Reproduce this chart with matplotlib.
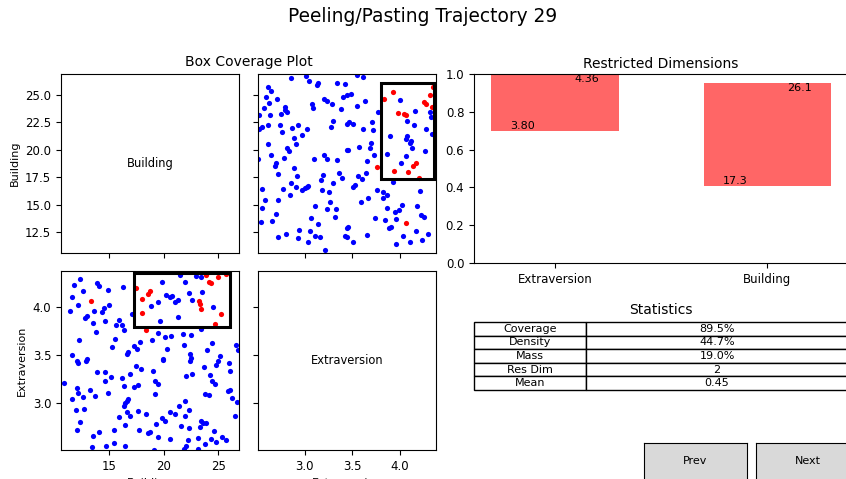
import matplotlib
matplotlib.use("Agg")
import matplotlib.pyplot as plt
from matplotlib.patches import Rectangle
from matplotlib.widgets import Button

# points outside the target class (blue)
blue_building = [
    12.30, 11.78, 12.60, 13.90, 14.06, 14.90, 16.24, 11.57, 12.18, 11.42,
    13.00, 12.84, 13.66, 14.36, 14.54, 14.97, 14.66, 13.57, 13.81, 15.87,
    15.63, 16.18, 17.09, 16.33, 15.57, 15.27, 12.24, 17.33, 17.60, 17.84,
    16.78, 16.63, 11.63, 13.00, 12.09,
    19.87, 21.48, 21.93, 22.99, 23.45, 18.84, 19.45, 20.18, 20.78, 21.02,
    21.27, 22.30, 23.50, 19.66, 21.27, 23.45, 19.50, 20.12, 20.66, 21.78,
    22.54, 18.96, 20.27, 21.87, 24.42, 24.00, 22.39, 22.54, 19.96, 25.12,
    26.63, 26.78, 24.55, 22.58, 20.60,
    12.18, 12.90, 10.87, 13.90, 14.60, 14.60, 15.21, 12.09, 12.18, 13.21,
    12.60, 11.57, 13.75, 14.90, 12.00, 12.69, 12.30, 12.09, 13.51, 14.12,
    13.45, 14.72, 15.42, 16.42, 15.42, 15.87, 16.42, 16.94, 16.33, 16.48,
    16.63, 16.72, 16.63, 16.18, 16.33, 16.94, 17.45, 17.93, 17.24, 17.69,
    17.63, 18.36, 17.75, 18.54,
    19.96, 22.39, 19.05, 19.20, 19.51, 19.20, 22.08, 22.60, 23.69, 24.81,
    25.02, 26.02, 26.12, 24.21, 24.42, 24.66, 23.81, 24.15, 25.87, 26.12,
    26.24, 26.72, 21.39, 21.93, 22.30, 20.57, 21.08, 21.99, 19.87, 20.12,
    19.27, 21.63, 22.30, 23.45, 23.60, 23.90, 23.30, 24.60, 26.54, 18.75,
    19.51, 20.57, 22.24, 23.15, 24.30, 24.81, 25.33, 25.72, 19.12, 21.87,
    22.08, 23.15, 23.81,
]
blue_extraversion = [
    4.30, 4.23, 4.17, 4.25, 4.22, 4.18, 4.21, 4.11, 4.03, 3.965,
    3.905, 3.89, 3.96, 3.95, 3.99, 4.02, 3.86, 3.84, 3.74, 3.87,
    3.82, 3.82, 3.93, 3.76, 3.67, 3.59, 3.66, 3.60, 3.565, 3.64,
    3.53, 3.51, 3.505, 3.46, 3.44,
    4.26, 4.34, 4.27, 4.33, 4.32, 4.01, 4.06, 4.13, 4.12, 4.06,
    4.08, 4.15, 4.16, 3.86, 3.90, 3.775, 3.73, 3.69, 3.70, 3.72,
    3.71, 3.66, 3.57, 3.61, 3.63, 3.55, 3.51, 3.47, 3.46, 3.49,
    3.61, 3.55, 4.00, 4.08, 4.105,
    3.42, 3.44, 3.21, 3.32, 3.33, 3.23, 3.27, 3.16, 3.11, 3.14,
    3.06, 3.04, 3.07, 3.11, 2.93, 2.94, 2.80, 2.72, 2.66, 2.70,
    2.54, 2.55, 2.58, 2.55, 2.72, 2.85, 2.77, 2.86, 2.97, 3.00,
    3.02, 3.04, 2.91, 3.26, 3.18, 3.30, 3.39, 3.36, 3.17, 3.19,
    2.92, 2.89, 2.72, 2.69,
    3.45, 3.44, 3.34, 3.23, 3.20, 3.10, 3.28, 3.30, 3.38, 3.40,
    3.44, 3.42, 3.34, 3.29, 3.23, 3.20, 3.09, 3.08, 3.13, 3.14,
    3.05, 3.01, 2.97, 3.02, 2.93, 2.91, 2.89, 2.87, 2.84, 2.81,
    2.78, 2.76, 2.74, 2.81, 2.79, 2.79, 2.75, 2.71, 2.86, 2.70,
    2.65, 2.62, 2.61, 2.64, 2.63, 2.59, 2.65, 2.61, 2.51, 2.52,
    2.55, 2.52, 2.57,
]

# points of the target class (red)
red_building = [13.36, 17.45, 17.99, 18.54, 18.75, 18.06, 18.39, 23.90, 24.15,
                24.36, 25.02, 25.72, 23.20, 23.30, 23.39, 25.27, 24.66]
red_extraversion = [4.07, 4.20, 4.09, 4.14, 4.17, 3.94, 3.76, 4.34, 4.27,
                    4.25, 4.32, 4.35, 4.07, 4.04, 3.98, 3.93, 3.83]

building_lim = (10.6, 26.9)
extraversion_lim = (2.51, 4.38)
box_building = (17.3, 26.1)
box_extraversion = (3.80, 4.36)

# restricted dimensions, normalised to [0, 1]
dims = ["Extraversion", "Building"]
dim_low = [0.70, 0.41]
dim_high = [1.00, 0.95]
low_labels = ["3.80", "17.3"]
high_labels = ["4.36", "26.1"]

stat_names = ["Coverage", "Density", "Mass", "Res Dim", "Mean"]
stat_values = ["89.5%", "44.7%", "19.0%", "2", "0.45"]

W, H = 846, 479


def place(left, top, right, bottom):
    """pixel box -> figure fraction rect"""
    return [left / W, 1 - bottom / H, (right - left) / W, (bottom - top) / H]


plt.rcParams["xtick.labelsize"] = 8.5
plt.rcParams["ytick.labelsize"] = 8.5

fig = plt.figure(figsize=(W / 100, H / 100), dpi=100)
fig.suptitle("Peeling/Pasting Trajectory 29", fontsize=13.4, y=1 - 16 / H, va="center")

ax_tl = fig.add_axes(place(61, 74, 239, 253))
ax_tr = fig.add_axes(place(258, 74, 436, 253), sharey=ax_tl)
ax_bl = fig.add_axes(place(61, 271, 239, 450), sharex=ax_tl)
ax_br = fig.add_axes(place(258, 271, 436, 450), sharex=ax_tr, sharey=ax_bl)

ax_tl.set_xlim(*building_lim)
ax_tl.set_ylim(*building_lim)
ax_tr.set_xlim(*extraversion_lim)
ax_bl.set_ylim(*extraversion_lim)

fig.text((61 + 436) / 2 / W, 1 - 62 / H, "Box Coverage Plot", ha="center", va="center", fontsize=10)

# diagonal
ax_tl.text(0.5, 0.5, "Building", transform=ax_tl.transAxes, ha="center", va="center", fontsize=8.3)
ax_br.text(0.5, 0.5, "Extraversion", transform=ax_br.transAxes, ha="center", va="center", fontsize=8.3)

# off-diagonal scatters
ax_tr.scatter(blue_extraversion, blue_building, s=14, c="blue", linewidths=0)
ax_tr.scatter(red_extraversion, red_building, s=14, c="red", linewidths=0)
ax_tr.add_patch(Rectangle((box_extraversion[0], box_building[0]),
                          box_extraversion[1] - box_extraversion[0], box_building[1] - box_building[0],
                          fill=False, edgecolor="black", linewidth=2.2))

ax_bl.scatter(blue_building, blue_extraversion, s=14, c="blue", linewidths=0)
ax_bl.scatter(red_building, red_extraversion, s=14, c="red", linewidths=0)
ax_bl.add_patch(Rectangle((box_building[0], box_extraversion[0]),
                          box_building[1] - box_building[0], box_extraversion[1] - box_extraversion[0],
                          fill=False, edgecolor="black", linewidth=2.2))

ax_tl.tick_params(labelbottom=False)
ax_tr.tick_params(labelbottom=False, labelleft=False)
ax_br.tick_params(labelleft=False)

ax_tl.set_ylabel("Building", fontsize=8)
ax_bl.set_ylabel("Extraversion", fontsize=8)
ax_bl.set_xlabel("Building", fontsize=8)
ax_br.set_xlabel("Extraversion", fontsize=8)

# restricted dimensions
ax_dim = fig.add_axes(place(474, 74, 848, 263))
heights = [h - l for l, h in zip(dim_low, dim_high)]
ax_dim.bar(dims, heights, bottom=dim_low, width=0.6, color="red", alpha=0.6)
for i in range(len(dims)):
    ax_dim.text(i - 0.15, dim_low[i], low_labels[i], ha="center", va="bottom", fontsize=8)
    ax_dim.text(i + 0.15, dim_high[i], high_labels[i], ha="center", va="top", fontsize=8)
ax_dim.set_ylim(0, 1)
ax_dim.set_title("Restricted Dimensions", fontsize=10, pad=4)

# statistics table
ax_tab = fig.add_axes(place(474, 322, 848, 390))
ax_tab.axis("off")
tab = ax_tab.table(cellText=[[n, v] for n, v in zip(stat_names, stat_values)],
                   colWidths=[0.3, 0.7], cellLoc="center", bbox=[0, 0, 1, 1])
tab.auto_set_font_size(False)
tab.set_fontsize(8)
ax_tab.set_title("Statistics", fontsize=10)

# navigation buttons
btn_prev = Button(fig.add_axes(place(644, 443, 747, 480)), "Prev")
btn_next = Button(fig.add_axes(place(756, 443, 859, 480)), "Next")
btn_prev.label.set_fontsize(8)
btn_next.label.set_fontsize(8)

fig.savefig("out.png", dpi=100)
